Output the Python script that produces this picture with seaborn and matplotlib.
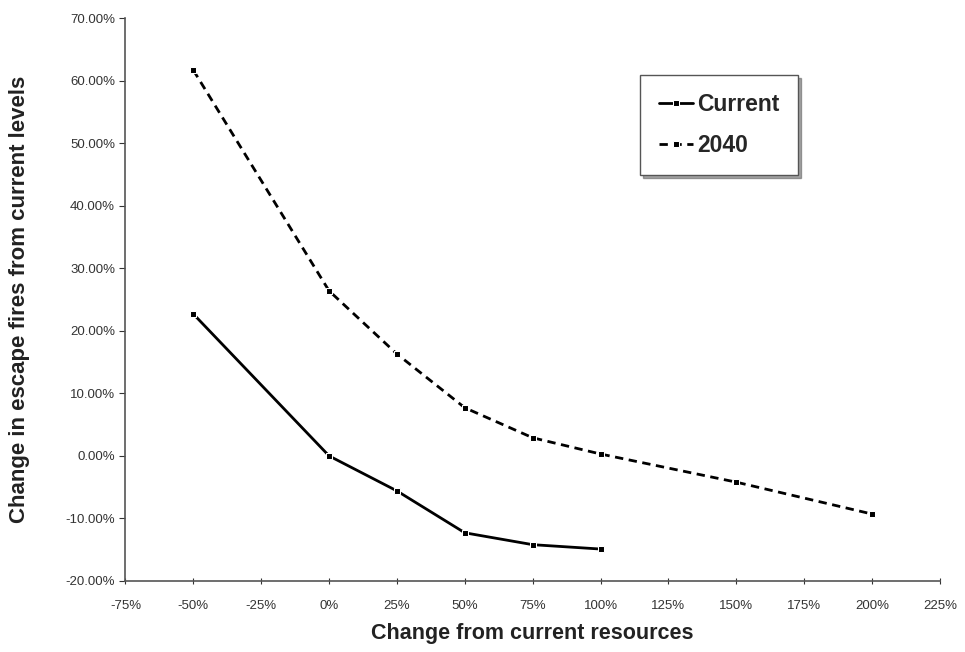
import matplotlib
matplotlib.use("Agg")
import matplotlib.pyplot as plt
from matplotlib.ticker import FuncFormatter, MultipleLocator
import seaborn as sns
import pandas as pd

# values (percent)
res_current = [-50, 0, 25, 50, 75, 100]
esc_current = [22.7, 0.0, -5.6, -12.3, -14.2, -14.9]

res_2040 = [-50, 0, 25, 50, 75, 100, 150, 200]
esc_2040 = [61.7, 26.4, 16.3, 7.7, 2.9, 0.3, -4.2, -9.3]

cur = pd.DataFrame({"res": res_current, "esc": esc_current})
fut = pd.DataFrame({"res": res_2040, "esc": esc_2040})

sns.set_theme(style="ticks")
plt.rcParams["font.family"] = ["Liberation Sans", "DejaVu Sans"]

fig, ax = plt.subplots(figsize=(9.65, 6.52), dpi=100)
fig.subplots_adjust(left=0.13, right=0.974, top=0.972, bottom=0.109)

sns.lineplot(data=cur, x="res", y="esc", ax=ax, color="black", linewidth=2,
             marker="s", markersize=4, label="Current")
sns.lineplot(data=fut, x="res", y="esc", ax=ax, color="black", linewidth=2,
             linestyle=(0, (3, 2)), marker="s", markersize=4, label="2040")

ax.set_xlim(-75, 225)
ax.set_ylim(-20, 70)
ax.xaxis.set_major_locator(MultipleLocator(25))
ax.yaxis.set_major_locator(MultipleLocator(10))
ax.xaxis.set_major_formatter(FuncFormatter(lambda v, p: f"{v:.0f}%"))
ax.yaxis.set_major_formatter(FuncFormatter(lambda v, p: f"{v:.2f}%"))
ax.tick_params(axis="both", labelsize=9.5, length=4, width=0.8, colors="#333333")
ax.tick_params(axis="x", direction="inout", pad=12)

sns.despine(ax=ax)
for s in ["left", "bottom"]:
    ax.spines[s].set_color("#555555")
    ax.spines[s].set_linewidth(1.2)

ax.set_xlabel("Change from current resources", fontsize=15.5, fontweight="bold",
              color="#222222", labelpad=8)
ax.set_ylabel("Change in escape fires from current levels", fontsize=16,
              fontweight="bold", color="#222222")
ax.yaxis.set_label_coords(-0.117, 0.5)

leg = ax.legend(loc="upper left", bbox_to_anchor=(0.632, 0.899), borderaxespad=0,
                fontsize=16.5, frameon=True, fancybox=False, handlelength=1.5,
                handletextpad=0.2, borderpad=0.8, labelspacing=0.75,
                edgecolor="#555555", shadow=True)
for t in leg.get_texts():
    t.set_fontweight("bold")

plt.savefig("out.png", dpi=100)
